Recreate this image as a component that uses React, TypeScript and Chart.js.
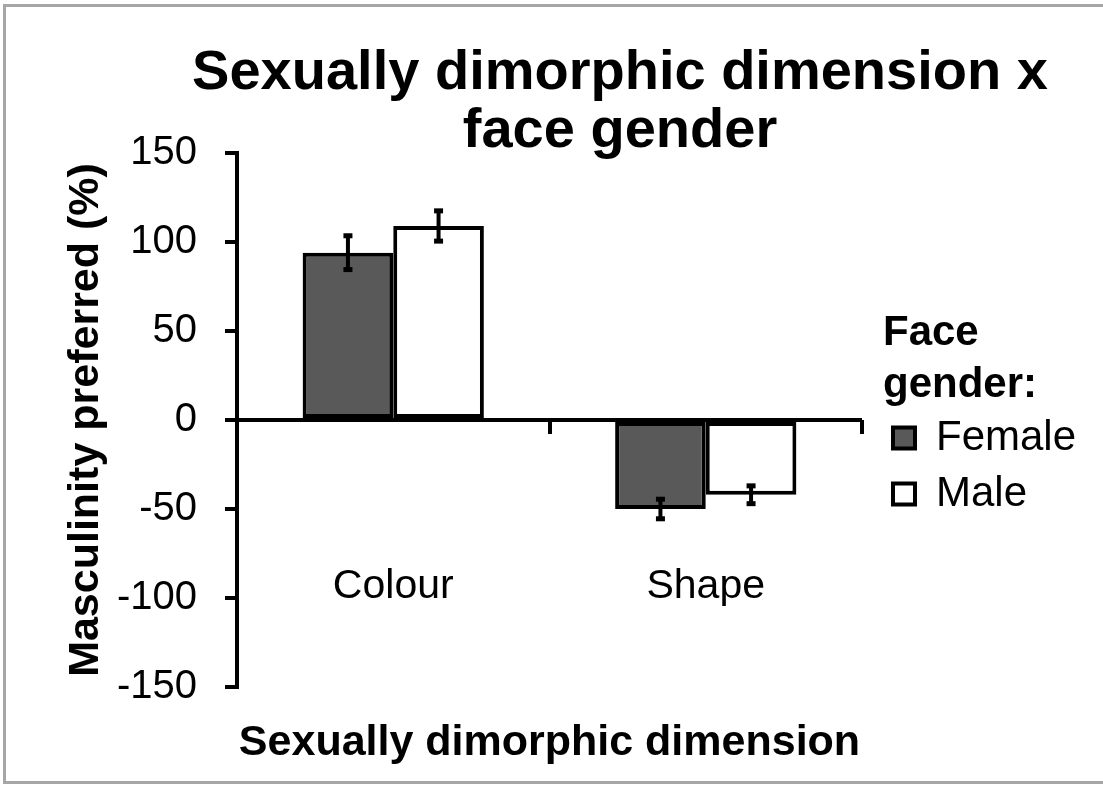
import React, { useEffect, useRef } from 'react';
import { Chart, registerables } from 'chart.js';

Chart.register(...registerables);

const TITLE_LINES = ['Sexually dimorphic dimension x', 'face gender'];
const CATEGORIES = ['Colour', 'Shape'];
const SERIES_NAMES = ['Female', 'Male'];
const FEMALE_VALUES = [94, -50];
const MALE_VALUES = [109, -42];
const FEMALE_ERRORS = [9.5, 5.5];
const MALE_ERRORS = [8.5, 5];
const Y_MIN = -150;
const Y_MAX = 150;
const Y_STEP = 50;
const X_TITLE = 'Sexually dimorphic dimension';
const Y_TITLE = 'Masculinity preferred (%)';
const LEGEND_TITLE = ['Face', 'gender:'];

const ERRORS = [FEMALE_ERRORS, MALE_ERRORS];
const FONT = '"Liberation Sans", Arial, Helvetica, sans-serif';
const CANVAS_W = 1240;
const CANVAS_H = 785;

const errorBarPlugin = {
  id: 'errorBars',
  afterDatasetsDraw(chart: any) {
    const ctx = chart.ctx;
    const yScale = chart.scales.y;
    chart.data.datasets.forEach((ds: any, di: number) => {
      const meta = chart.getDatasetMeta(di);
      const errs = ERRORS[di];
      meta.data.forEach((bar: any, i: number) => {
        const v = ds.data[i] as number;
        const e = errs[i];
        const x = bar.x;
        const yTop = yScale.getPixelForValue(v + e);
        const yBot = yScale.getPixelForValue(v - e);
        ctx.save();
        ctx.strokeStyle = '#000';
        ctx.fillStyle = '#000';
        ctx.lineWidth = 4;
        ctx.beginPath();
        ctx.moveTo(x, yTop);
        ctx.lineTo(x, yBot);
        ctx.stroke();
        ctx.fillRect(x - 4.5, yTop - 2.5, 9, 5);
        ctx.fillRect(x - 4.5, yBot - 2.5, 9, 5);
        ctx.restore();
      });
    });
  },
};

export default function App() {
  const canvasRef = useRef<HTMLCanvasElement | null>(null);

  useEffect(() => {
    if (!canvasRef.current) return;
    Chart.defaults.font.family = FONT;
    Chart.defaults.color = '#000';

    const chart = new Chart(canvasRef.current, {
      type: 'bar',
      data: {
        labels: CATEGORIES,
        datasets: [
          {
            label: SERIES_NAMES[0],
            data: FEMALE_VALUES,
            backgroundColor: '#595959',
            borderColor: '#000',
            borderWidth: 4,
            borderSkipped: false,
            categoryPercentage: 0.58,
            barPercentage: 1.0,
          },
          {
            label: SERIES_NAMES[1],
            data: MALE_VALUES,
            backgroundColor: '#ffffff',
            borderColor: '#000',
            borderWidth: 4,
            borderSkipped: false,
            categoryPercentage: 0.58,
            barPercentage: 1.0,
          },
        ],
      },
      options: {
        responsive: false,
        maintainAspectRatio: false,
        animation: false,
        events: [],
        layout: { padding: 0 },
        plugins: {
          title: {
            display: true,
            text: TITLE_LINES,
            color: '#000',
            font: { family: FONT, size: 56, weight: 'bold', lineHeight: 58 / 56 },
            padding: { top: 45, bottom: -8 },
          },
          legend: {
            display: true,
            position: 'right',
            align: 'start',
            fullSize: false,
            title: {
              display: true,
              text: LEGEND_TITLE,
              position: 'start',
              color: '#000',
              font: { family: FONT, size: 42, weight: 'bold', lineHeight: 52 / 42 },
              padding: { top: 159, bottom: 43 },
            },
            labels: {
              color: '#000',
              font: { family: FONT, size: 42, lineHeight: 46 / 42 },
              boxWidth: 22,
              boxHeight: 21,
              padding: 10,
              generateLabels: (c: any) => {
                const base = (Chart.defaults.plugins.legend.labels as any).generateLabels(c);
                return base.map((l: any) => ({ ...l, text: [l.text], lineWidth: 4 }));
              },
            },
          },
          tooltip: { enabled: false },
        },
        scales: {
          x: {
            type: 'category',
            position: 'bottom',
            grid: { display: false },
            border: { display: false },
            ticks: { display: false },
            title: {
              display: true,
              text: X_TITLE,
              color: '#000',
              font: { family: FONT, size: 43, weight: 'bold' },
              padding: { top: 0, bottom: 16 },
            },
            afterFit: (s: any) => {
              s.height = 98;
            },
          },
          x2: {
            type: 'category',
            position: { y: 0 },
            offset: true,
            display: true,
            grid: {
              display: true,
              offset: true,
              drawOnChartArea: false,
              drawTicks: true,
              tickLength: 14,
              lineWidth: 4,
              color: '#000',
              tickColor: '#000',
              tickWidth: 4,
            },
            border: { display: false },
            ticks: {
              display: true,
              padding: 128,
              color: '#000',
              font: { family: FONT, size: 41 },
              maxRotation: 0,
              autoSkip: false,
            },
            afterFit: (s: any) => {
              s.height = 0;
            },
          },
          y: {
            type: 'linear',
            position: 'left',
            min: Y_MIN,
            max: Y_MAX,
            ticks: {
              stepSize: Y_STEP,
              padding: 28,
              color: '#000',
              font: { family: FONT, size: 40 },
            },
            grid: {
              color: (ctx: any) => (ctx.tick && ctx.tick.value === 0 ? '#000' : 'rgba(0,0,0,0)'),
              lineWidth: 4,
              drawTicks: true,
              tickLength: 12,
              tickColor: '#000',
              tickWidth: 4,
            },
            border: { display: true, color: '#000', width: 4 },
            title: {
              display: true,
              text: Y_TITLE,
              color: '#000',
              font: { family: FONT, size: 43, weight: 'bold' },
              padding: { top: 60, bottom: 0 },
            },
            afterFit: (s: any) => {
              s.width = 237;
            },
          },
          gap: {
            type: 'linear',
            position: 'right',
            display: false,
            afterFit: (s: any) => {
              s.width = 21;
            },
          },
          pad: {
            type: 'linear',
            position: 'right',
            weight: 2000,
            display: false,
            afterFit: (s: any) => {
              const lg = s.chart.legend;
              s.width = Math.max(0, s.chart.width - 883 - (lg ? lg.width : 0));
            },
          },
        },
      } as any,
      plugins: [errorBarPlugin],
    });

    return () => {
      chart.destroy();
    };
  }, []);

  return (
    <div
      style={{
        position: 'fixed',
        left: 0,
        top: 0,
        width: 1103,
        height: 785,
        overflow: 'hidden',
        background: '#ffffff',
      }}
    >
      <div
        style={{
          position: 'absolute',
          left: 3,
          top: 4,
          width: 1400,
          height: 780,
          boxSizing: 'border-box',
          borderLeft: '3px solid #a6a6a6',
          borderTop: '3px solid #a6a6a6',
          borderBottom: '3px solid #a6a6a6',
        }}
      />
      <canvas
        ref={canvasRef}
        width={CANVAS_W}
        height={CANVAS_H}
        style={{ position: 'absolute', left: 0, top: 0, width: CANVAS_W, height: CANVAS_H, display: 'block' }}
      />
    </div>
  );
}
